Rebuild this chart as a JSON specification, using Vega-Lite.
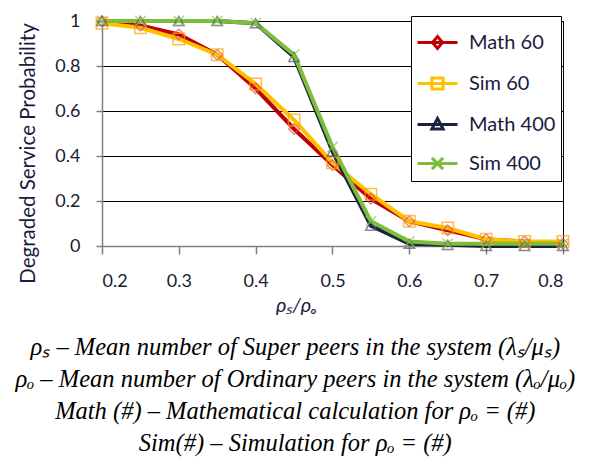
{
  "$schema": "https://vega.github.io/schema/vega-lite/v6.json",
  "width": 461,
  "height": 225,
  "padding": {"left": 15, "top": 12, "right": 5, "bottom": 5},
  "background": "white",
  "data": {"values": [
    {"x":0.2,"y":1.0,"s":"Math 60"},{"x":0.25,"y":0.98,"s":"Math 60"},{"x":0.3,"y":0.94,"s":"Math 60"},{"x":0.35,"y":0.85,"s":"Math 60"},{"x":0.4,"y":0.70,"s":"Math 60"},{"x":0.45,"y":0.52,"s":"Math 60"},{"x":0.5,"y":0.36,"s":"Math 60"},{"x":0.55,"y":0.21,"s":"Math 60"},{"x":0.6,"y":0.11,"s":"Math 60"},{"x":0.65,"y":0.07,"s":"Math 60"},{"x":0.7,"y":0.03,"s":"Math 60"},{"x":0.75,"y":0.02,"s":"Math 60"},{"x":0.8,"y":0.01,"s":"Math 60"},
    {"x":0.2,"y":0.99,"s":"Sim 60"},{"x":0.25,"y":0.97,"s":"Sim 60"},{"x":0.3,"y":0.92,"s":"Sim 60"},{"x":0.35,"y":0.85,"s":"Sim 60"},{"x":0.4,"y":0.72,"s":"Sim 60"},{"x":0.45,"y":0.56,"s":"Sim 60"},{"x":0.5,"y":0.37,"s":"Sim 60"},{"x":0.55,"y":0.23,"s":"Sim 60"},{"x":0.6,"y":0.11,"s":"Sim 60"},{"x":0.65,"y":0.08,"s":"Sim 60"},{"x":0.7,"y":0.03,"s":"Sim 60"},{"x":0.75,"y":0.02,"s":"Sim 60"},{"x":0.8,"y":0.02,"s":"Sim 60"},
    {"x":0.2,"y":1.0,"s":"Math 400"},{"x":0.25,"y":1.0,"s":"Math 400"},{"x":0.3,"y":1.0,"s":"Math 400"},{"x":0.35,"y":1.0,"s":"Math 400"},{"x":0.4,"y":0.99,"s":"Math 400"},{"x":0.45,"y":0.84,"s":"Math 400"},{"x":0.5,"y":0.42,"s":"Math 400"},{"x":0.55,"y":0.09,"s":"Math 400"},{"x":0.6,"y":0.01,"s":"Math 400"},{"x":0.65,"y":0.005,"s":"Math 400"},{"x":0.7,"y":0.0,"s":"Math 400"},{"x":0.75,"y":0.0,"s":"Math 400"},{"x":0.8,"y":0.0,"s":"Math 400"},
    {"x":0.2,"y":1.0,"s":"Sim 400"},{"x":0.25,"y":1.0,"s":"Sim 400"},{"x":0.3,"y":1.0,"s":"Sim 400"},{"x":0.35,"y":1.0,"s":"Sim 400"},{"x":0.4,"y":0.99,"s":"Sim 400"},{"x":0.45,"y":0.85,"s":"Sim 400"},{"x":0.5,"y":0.44,"s":"Sim 400"},{"x":0.55,"y":0.11,"s":"Sim 400"},{"x":0.6,"y":0.02,"s":"Sim 400"},{"x":0.65,"y":0.01,"s":"Sim 400"},{"x":0.7,"y":0.01,"s":"Sim 400"},{"x":0.75,"y":0.01,"s":"Sim 400"},{"x":0.8,"y":0.01,"s":"Sim 400"}
  ]},
  "title": {
    "text": [
      "ρₛ – Mean number of Super peers in the system (λₛ/μₛ)",
      "ρₒ – Mean number of Ordinary peers in the system (λₒ/μₒ)",
      "Math (#) – Mathematical calculation for ρₒ = (#)",
      "Sim(#) – Simulation for ρₒ = (#)"
    ],
    "orient": "bottom",
    "anchor": "middle",
    "frame": "bounds",
    "font": "Liberation Serif",
    "fontStyle": "italic",
    "fontWeight": "normal",
    "fontSize": 24.5,
    "lineHeight": 32,
    "color": "black",
    "offset": 21
  },
  "encoding": {
    "x": {"field": "x", "type": "quantitative",
      "scale": {"domain": [0.2, 0.8], "nice": false, "zero": false},
      "axis": {"values": [0.2,0.3,0.4,0.5,0.6,0.7,0.8], "format": "~g", "grid": false,
        "title": "ρₛ/ρₒ", "titleFontStyle": "italic", "titleFontWeight": "normal", "titleFontSize": 20,
        "titleColor": "#1a1a40", "titlePadding": 5, "titleX": 194,
        "labelPadding": 18, "tickSize": 8}
    },
    "y": {"field": "y", "type": "quantitative",
      "scale": {"domain": [0, 1], "nice": false},
      "axis": {"values": [0,0.2,0.4,0.6,0.8,1], "format": "~g", "grid": true,
        "gridColor": "black", "gridOpacity": 1, "gridWidth": 1,
        "title": "Degraded Service Probability", "titleFontWeight": "normal", "titleFontSize": 20.5,
        "titleColor": "#1a1a40", "titlePadding": 16, "titleY": 132,
        "labelPadding": 16, "tickSize": 6}
    }
  },
  "layer": [
    {
      "mark": {"type": "line", "strokeWidth": 4},
      "encoding": {
        "color": {"field": "s", "type": "nominal",
          "scale": {"domain": ["Math 60","Sim 60","Math 400","Sim 400"], "range": ["#C00000","#FFC000","#1C2340","#7CBD3C"]},
          "legend": {
            "orient": "none", "legendX": 309, "legendY": -5,
            "title": null, "padding": 5, "strokeColor": "black", "fillColor": "white",
            "symbolSize": 1600, "symbolStrokeWidth": 3, "labelOffset": 10, "rowPadding": 7,
            "labelFont": "Lato", "labelFontSize": 20, "labelColor": "#1a1a40", "labelLimit": 200,
            "symbolType": "M-1,0H1",
            "encode": {"symbols": {"update": {
              "shape": {"signal": "datum.value === 'Math 60' ? 'M-1,0H1M0,-0.3L0.25,0L0,0.3L-0.25,0Z' : datum.value === 'Sim 60' ? 'M-1,0H1M-0.28,-0.28H0.28V0.28H-0.28Z' : datum.value === 'Math 400' ? 'M-1,0H1M0,-0.3L0.28,0.22H-0.28Z' : 'M-1,0H1M-0.28,-0.28L0.28,0.28M-0.28,0.28L0.28,-0.28'"},
              "fill": {"value": "white"}
            }}}
          }
        },
        "order": {"field": "x", "type": "quantitative"}
      }
    },
    {
      "transform": [{"filter": "datum.s === 'Math 60'"}],
      "mark": {"type": "point", "filled": false, "strokeWidth": 1.5, "size": 110, "shape": "diamond", "stroke": "#E05050"}
    },
    {
      "transform": [{"filter": "datum.s === 'Sim 60'"}],
      "mark": {"type": "point", "filled": false, "strokeWidth": 1.5, "size": 130, "shape": "square", "stroke": "#FFA000"}
    },
    {
      "transform": [{"filter": "datum.s === 'Math 400'"}],
      "mark": {"type": "point", "filled": false, "strokeWidth": 1.5, "size": 110, "shape": "triangle-up", "stroke": "#4A5570"}
    },
    {
      "transform": [{"filter": "datum.s === 'Sim 400'"}],
      "mark": {"type": "point", "filled": false, "strokeWidth": 1.5, "size": 110, "shape": "M-1,-1L1,1M-1,1L1,-1", "stroke": "#8CCB3C"}
    }
  ],
  "config": {
    "view": {"stroke": "black", "strokeWidth": 1},
    "axis": {"labelFont": "Lato", "titleFont": "Lato", "labelFontSize": 18, "labelColor": "#1a1a30",
      "domainColor": "#808080", "domainWidth": 1.5, "tickColor": "#808080", "tickWidth": 1.5}
  }
}
